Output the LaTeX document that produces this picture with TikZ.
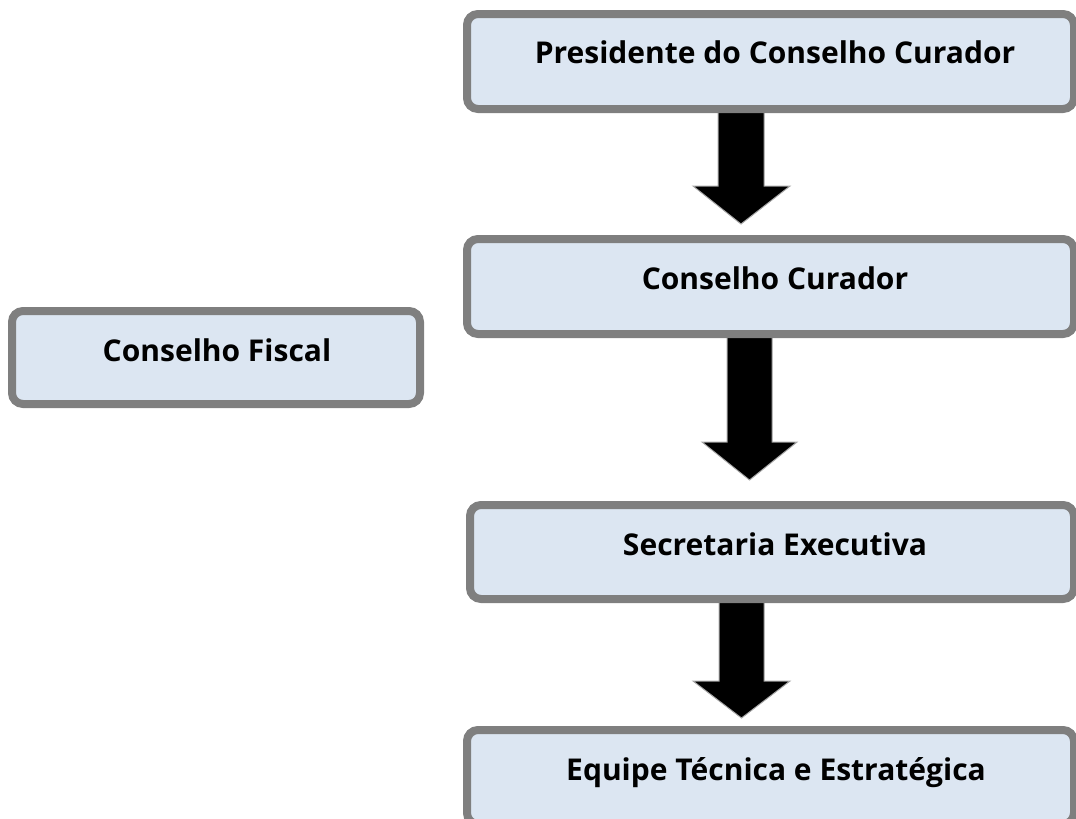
\documentclass[tikz,border=0pt]{standalone}
\usepackage{fontspec}
\setmainfont{Open Sans}
\definecolor{boxgray}{HTML}{7F7F7F}
\definecolor{boxfill}{HTML}{DCE6F2}
\definecolor{arrowgray}{HTML}{A6A6A6}
\begin{document}
\begin{tikzpicture}[x=1pt,y=-1pt,
  orgbox/.style={draw=boxgray, fill=boxfill, line width=8pt, rounded corners=11pt, inner sep=0pt},
  lbl/.style={anchor=base, font=\bfseries\fontsize{30}{36}\selectfont, text=black, inner sep=0pt},
  blockarrow/.style={fill=black, draw=arrowgray, line width=1pt, line join=miter}]
\useasboundingbox (0,0) rectangle (1076,819);
% block arrows
\coordinate (t1) at (741,224);
\coordinate (t2) at (749.5,480);
\coordinate (t3) at (741.5,718);
\draw[blockarrow] (718,110) -- (718,186) -- (693,186) -- (t1) -- (790,186) -- (764,186) -- (764,110);
\draw[blockarrow] (727,335) -- (727,442) -- (702,442) -- (t2) -- (797,442) -- (772,442) -- (772,335);
\draw[blockarrow] (719,600) -- (719,681) -- (693,681) -- (t3) -- (790,681) -- (764,681) -- (764,600);
% boxes
\node[orgbox, minimum width=607pt, minimum height=95pt] (pres) at (770.5,61.5) {};
\node[orgbox, minimum width=607pt, minimum height=95pt] (cur) at (770.5,286.5) {};
\node[orgbox, minimum width=604pt, minimum height=94pt] (sec) at (772,552) {};
\node[orgbox, minimum width=607pt, minimum height=94pt] (eq) at (770.5,777) {};
\node[orgbox, minimum width=408pt, minimum height=93pt] (fis) at (216,357.5) {};
% labels
\node[lbl] (presT) at (775,63) {Presidente do Conselho Curador};
\node[lbl] (curT) at (775,289) {Conselho Curador};
\node[lbl] (secT) at (775,555) {Secretaria Executiva};
\node[lbl] (eqT) at (776,780) {Equipe Técnica e Estratégica};
\node[lbl] (fisT) at (217,361) {Conselho Fiscal};
\end{tikzpicture}
\end{document}
